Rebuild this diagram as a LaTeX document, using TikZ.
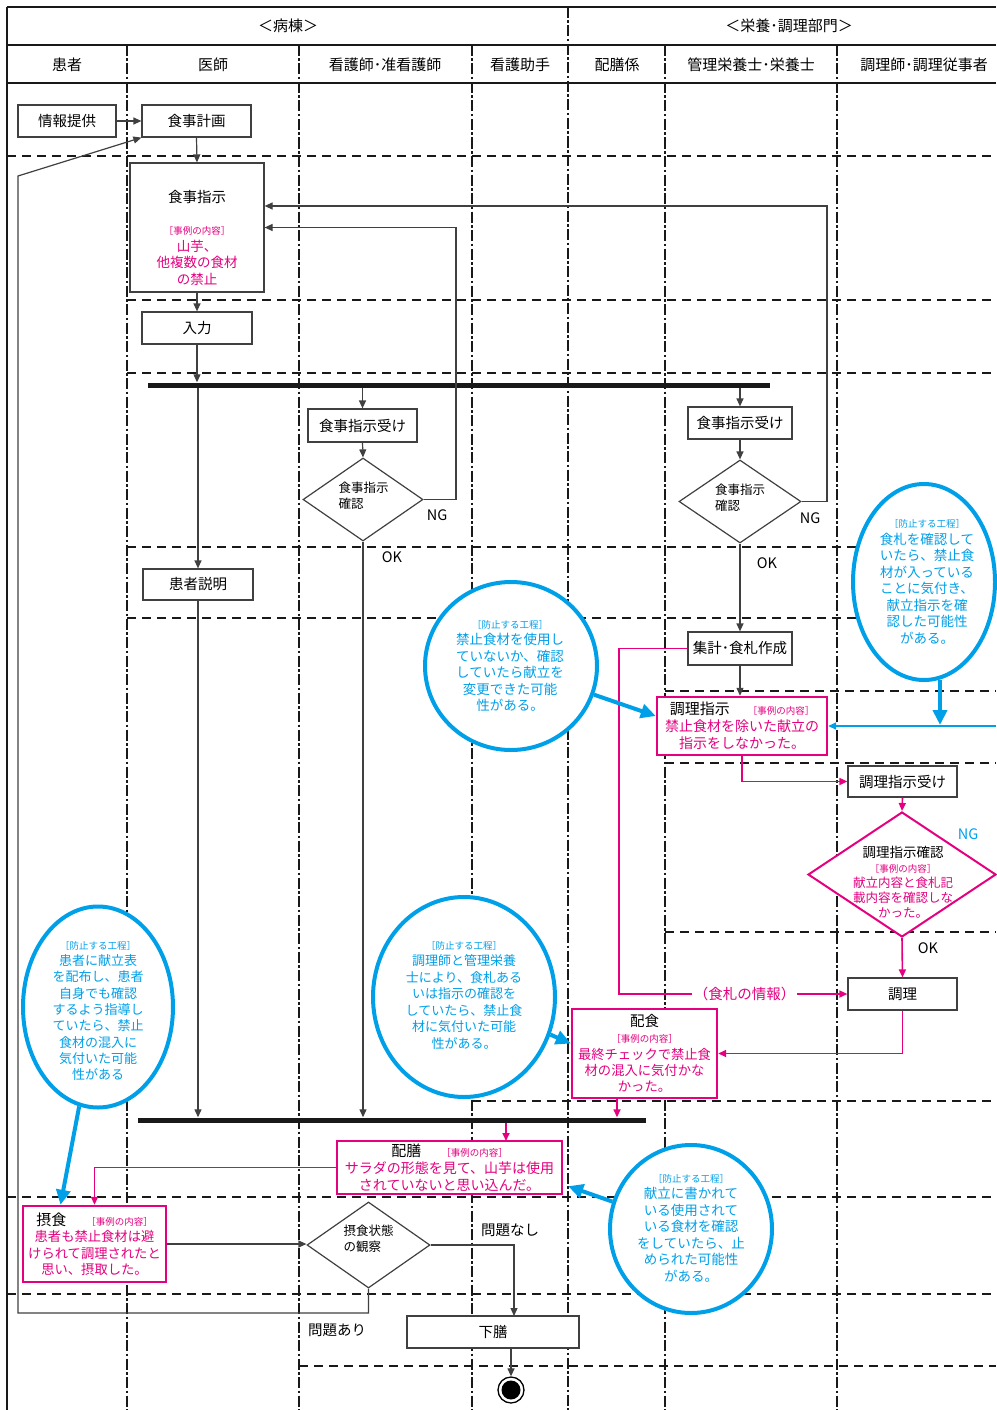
\documentclass[tikz,border=0pt]{standalone}
\usepackage{fontspec}
\setmainfont{Noto Sans CJK JP}
\usetikzlibrary{arrows.meta,shapes.geometric,calc}
\definecolor{mag}{HTML}{E4007F}
\definecolor{cyn}{HTML}{00A0E9}
\definecolor{gline}{HTML}{404040}
\newcommand{\rei}{{\fontsize{9.5}{11}\selectfont\color{mag}［事例の内容］}}
\newcommand{\bou}{{\fontsize{9.5}{11}\selectfont［防止する工程］}}
\begin{document}
\begin{tikzpicture}[x=1pt,y=-1pt,
  every node/.style={font=\fontsize{14.5}{17}\selectfont, inner sep=0pt},
  frame/.style={draw=black!90, line width=2.4pt},
  vdash/.style={draw=black!90, line width=2pt, dash pattern=on 11pt off 2.5pt on 2.5pt off 2.5pt},
  hdash/.style={draw=black!90, line width=2pt, dash pattern=on 9pt off 6pt},
  box/.style={draw=gline, line width=1.2pt, fill=white, align=center},
  mbox/.style={draw=mag, line width=2.4pt, fill=white, align=center, text=mag},
  dia/.style={diamond, draw=gline, line width=1.2pt, fill=white},
  mdia/.style={diamond, draw=mag, line width=2pt, fill=white},
  dtext/.style={align=left, font=\fontsize{12.5}{16}\selectfont},
  ell/.style={ellipse, draw=cyn, line width=4pt, fill=white},
  etext/.style={align=center, text=cyn, font=\fontsize{13.5}{16.5}\selectfont},
  bar/.style={fill=black!90, minimum height=5pt},
  conn/.style={draw=gline, line width=1.2pt},
  arr/.style={conn, -{Triangle[length=8pt,width=7pt]}},
  marr/.style={draw=mag, line width=1.6pt, -{Triangle[length=8pt,width=7pt]}},
  barr/.style={draw=cyn, line width=4pt, -{Triangle[length=15pt,width=14pt]}},
  bthin/.style={draw=cyn, line width=1.8pt, -{Triangle[length=8pt,width=7pt]}},
  hdr/.style={font=\fontsize{15}{17}\selectfont}
]
\useasboundingbox (0,0) rectangle (996,1410);

% ---- grid ----
\draw[frame] (7,7) -- (996,7);
\draw[frame] (7,45) -- (996,45);
\draw[frame] (7,83) -- (996,83);
\draw[frame] (7,7) -- (7,1410);
\foreach \x in {127,299,472,665,837} \draw[vdash] (\x,45) -- (\x,1410);
\draw[vdash, line width=2.7pt] (568,7) -- (568,1410);
\foreach \y/\a in {156/7, 300/127, 373/127, 547/127, 618/127, 691/665, 763/665, 932/665, 1101/472, 1197/7, 1294/7, 1366/299}
  \draw[hdash] (\a,\y) -- (996,\y);

% ---- headers ----
\node[hdr] (hbyoto) at (288,26) {＜病棟＞};
\node[hdr] (heiyo) at (789,26) {＜栄養･調理部門＞};
\node[hdr] (c1) at (67,65) {患者};
\node[hdr] (c2) at (213,65) {医師};
\node[hdr] (c3) at (385,65) {看護師･准看護師};
\node[hdr] (c4) at (520,65) {看護助手};
\node[hdr] (c5) at (617,65) {配膳係};
\node[hdr] (c6) at (751,65) {管理栄養士･栄養士};
\node[hdr] (c7) at (924,65) {調理師･調理従事者};

% ---- ellipses (prevention) ----
\node[ell, minimum width=172pt, minimum height=168pt] (e1) at (511,666) {};
\node[etext] (e1t) at (510,666) {\bou\\禁止食材を使用し\\ていないか、確認\\していたら献立を\\変更できた可能\\性がある。};
\node[ell, minimum width=142pt, minimum height=196pt] (e2) at (924,582) {};
\node[etext] (e2t) at (927,582) {\bou\\食札を確認して\\いたら、禁止食\\材が入っている\\ことに気付き、\\献立指示を確\\認した可能性\\がある。};
\node[ell, minimum width=150pt, minimum height=201pt] (e3) at (98,1007) {};
\node[etext, font=\fontsize{13}{16.3}\selectfont] (e3t) at (98,1011) {\bou\\患者に献立表\\を配布し、患者\\自身でも確認\\するよう指導し\\ていたら、禁止\\食材の混入に\\気付いた可能\\性がある};
\node[ell, minimum width=182pt, minimum height=200pt] (e4) at (464,997) {};
\node[etext, font=\fontsize{13}{16.5}\selectfont] (e4t) at (464,995) {\bou\\調理師と管理栄養\\士により、食札ある\\いは指示の確認を\\していたら、禁止食\\材に気付いた可能\\性がある。};
\node[ell, minimum width=162pt, minimum height=168pt] (e5) at (691,1229) {};
\node[etext] (e5t) at (691,1228) {\bou\\献立に書かれて\\いる使用されて\\いる食材を確認\\をしていたら、止\\められた可能性\\がある。};

% ---- boxes ----
\node[box, minimum width=98pt, minimum height=32pt] (joho) at (67,121) {情報提供};
\node[box, minimum width=109pt, minimum height=32pt] (keikaku) at (196.5,121) {食事計画};
\node[box, minimum width=134pt, minimum height=129pt] (shiji) at (197,227.5) {};
\node (shijit1) at (197,197) {食事指示};
\node[align=center, text=mag, font=\fontsize{13.5}{16.5}\selectfont] (shijit2) at (197,256) {\rei\\山芋、\\他複数の食材\\の禁止};
\node[box, minimum width=110pt, minimum height=32pt] (nyuryoku) at (197,328) {入力};
\node[bar, minimum width=622pt] (fork) at (459,385) {};
\node[box, minimum width=109pt, minimum height=33pt] (uke1) at (362.5,425.5) {食事指示受け};
\node[dia, minimum width=120pt, minimum height=83pt] (dia1) at (363,499.5) {};
\node[dtext] (dia1t) at (363.5,495.5) {食事指示\\確認};
\node[box, minimum width=104pt, minimum height=32pt] (uke2) at (740,423) {食事指示受け};
\node[dia, minimum width=122pt, minimum height=83pt] (dia2) at (740,501.5) {};
\node[dtext] (dia2t) at (740,498) {食事指示\\確認};
\node[box, minimum width=110pt, minimum height=31pt] (setsumei) at (198,584.5) {患者説明};
\node[box, minimum width=104pt, minimum height=33pt] (shukei) at (740,648.5) {集計･食札作成};
\node[mbox, minimum width=170pt, minimum height=58pt, font=\fontsize{14}{17}\selectfont] (chouri) at (742,726) {{\color{black}\fontsize{15}{17}\selectfont 調理指示}\hspace{18pt}\rei\\禁止食材を除いた献立の\\指示をしなかった。};
\node[box, minimum width=109pt, minimum height=31pt] (ukechouri) at (902.5,781.5) {調理指示受け};
\node[mdia, minimum width=188pt, minimum height=125pt] (dia3) at (902,874.5) {};
\node[align=center, text=mag, font=\fontsize{12.5}{15}\selectfont] (dia3t) at (903,882) {{\color{black}\fontsize{13.5}{15}\selectfont 調理指示確認}\\\rei\\献立内容と食札記\\載内容を確認しな\\かった。};
\node[box, minimum width=109pt, minimum height=32pt] (chori) at (902.5,994) {調理};
\node[mbox, minimum width=145pt, minimum height=89pt, font=\fontsize{13.3}{16.3}\selectfont] (haishoku) at (644.5,1053.5) {{\color{black}\fontsize{14.5}{16.3}\selectfont 配食}\\\rei\\最終チェックで禁止食\\材の混入に気付かな\\かった。};
\node[bar, minimum width=508pt] (join) at (392,1120) {};
\node[mbox, minimum width=225pt, minimum height=53pt, font=\fontsize{14}{17}\selectfont] (haizen) at (449.5,1167.5) {{\color{black}\fontsize{15}{17}\selectfont 配膳}\hspace{20pt}\rei\\サラダの形態を見て、山芋は使用\\されていないと思い込んだ。};
\node[mbox, minimum width=143pt, minimum height=76pt, font=\fontsize{13.3}{16.5}\selectfont] (sesshoku) at (94.5,1244) {{\color{black}\fontsize{15}{17}\selectfont 摂食}\hspace{20pt}\rei\\患者も禁止食材は避\\けられて調理されたと\\思い、摂取した。};
\node[dia, minimum width=123pt, minimum height=86pt] (dia4) at (368.5,1245) {};
\node[dtext] (dia4t) at (368.5,1238.5) {摂食状態\\の観察};
\node[box, minimum width=172pt, minimum height=32pt] (gezen) at (493,1332) {下膳};
\node[circle, draw=black, line width=1.3pt, fill=white, minimum size=26pt] (endc) at (511,1390) {};
\node[circle, fill=black, minimum size=19pt] (endi) at (511,1390) {};

% ---- labels ----
\node (ng1) at (437,515) {NG};
\node (ok1) at (392,557) {OK};
\node (ng2) at (810,518) {NG};
\node (ok2) at (767,563) {OK};
\node[text=cyn] (ng3) at (968,834) {NG};
\node (ok3) at (928,948) {OK};
\node (nashi) at (510,1230) {問題なし};
\node (ari) at (337,1330) {問題あり};

% ---- connectors ----
\draw[arr] (joho.east) -- (keikaku.west);
\draw[arr] (keikaku.south) -- (shiji.north);
\draw[arr] (shiji.south) -- (nyuryoku.north);
\draw[arr] (nyuryoku.south) -- (nyuryoku.south |- fork.north);
\draw[arr] (fork.south -| setsumei.north) -- (setsumei.north);
\draw[arr] (fork.south -| uke1.north) -- (uke1.north);
\draw[arr] (fork.south -| uke2.north) -- (uke2.north);
\draw[arr] (uke1.south) -- (dia1.north);
\draw[arr] (uke2.south) -- (dia2.north);
\draw[arr] (dia1.east) -- (456,499.5) |- (shiji.east);
\draw[arr] (dia2.east) -- (827,501.5) |- ([yshift=21.5pt]shiji.east);
\draw[arr] (dia1.south) -- (dia1.south |- join.north);
\draw[arr] (dia2.south) -- (shukei.north);
\draw[arr] (shukei.south) -- (shukei.south |- chouri.north);
\draw[arr] (setsumei.south) -- (setsumei.south |- join.north);
\draw[marr] (shukei.west) -| (619,994) -- node[pos=0.55, fill=white, text=mag, inner xsep=2pt] (fudalbl) {（食札の情報）} (chori.west);
\draw[marr] (chouri.south) |- (ukechouri.west);
\draw[marr] (ukechouri.south) -- (dia3.north);
\draw[marr] (dia3.south) -- (chori.north);
\draw[marr] (chori.south) |- (haishoku.east);
\draw[marr] ([xshift=-27.5pt]haishoku.south) -- ([xshift=-27.5pt]haishoku.south |- join.north);
\draw[marr] (join.south -| 506,0) -- (506,1141);
\draw[marr] (haizen.west) -| (sesshoku.north);
\draw[arr] (sesshoku.east) -- (sesshoku.east -| dia4.west);
\draw[arr] (dia4.east) -| (514,1316);
\draw[arr] (dia4.south) |- (18,1313) -- (18,176) -- (keikaku.south west);
\draw[arr] (gezen.south -| endc.north) -- (endc.north);

% ---- blue arrows ----
\coordinate (bedge) at (996,726);
\draw[bthin] (bedge) -- (chouri.east);
\draw[barr] ([xshift=16pt,yshift=2pt]e2.south) -- (940,725);
\draw[barr] (e1) -- ([yshift=10pt]chouri.west);
\draw[barr] (e3) -- ([xshift=-34pt]sesshoku.north);
\draw[barr] (e4) -- ([yshift=10pt]haishoku.west);
\draw[barr] (e5) -- ([xshift=5pt,yshift=9pt]haizen.south east);
\end{tikzpicture}
\end{document}
